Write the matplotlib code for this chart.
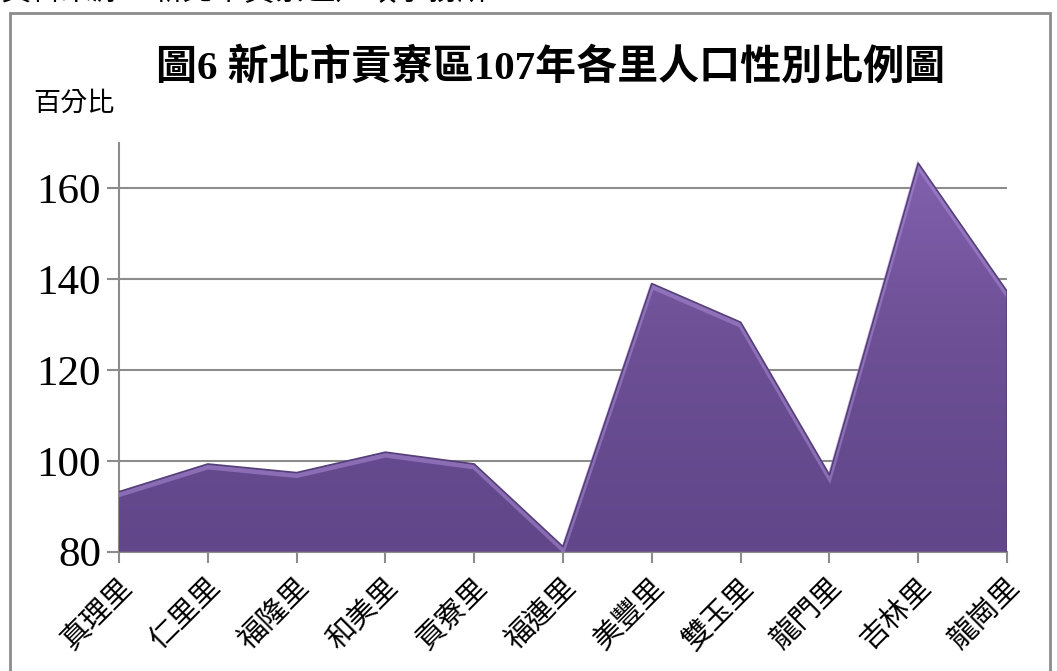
import numpy as np
import matplotlib
matplotlib.use('Agg')
import matplotlib.pyplot as plt
import matplotlib.transforms as mtransforms
from matplotlib.patches import Rectangle

plt.rcParams['font.family'] = ['Liberation Serif', 'Noto Sans CJK TC']

villages = ['真理里', '仁里里', '福隆里', '和美里', '貢寮里', '福連里',
            '美豐里', '雙玉里', '龍門里', '吉林里', '龍崗里']
sex_ratio = [93.2, 99.3, 97.4, 101.9, 99.3, 81.1, 139.0, 130.5, 96.9, 165.5, 137.3]
y_ticks = [80, 100, 120, 140, 160]

title = '圖6 新北市貢寮區107年各里人口性別比例圖'
y_title = '百分比'
source = '資料來源：新北市貢寮區戶政事務所'

fig = plt.figure(figsize=(10.57, 6.71), dpi=100)
ax = fig.add_axes([0.1126, 0.1778, 0.8401, 0.6095])

x = np.arange(len(villages))
y = np.array(sex_ratio)

# area with vertical gradient
poly = ax.fill_between(x, 80, y, facecolor='none', edgecolor='none', zorder=3)
grad = np.linspace(0, 1, 256).reshape(-1, 1)
cmap = matplotlib.colors.LinearSegmentedColormap.from_list(
    'purp', ['#61468a', '#6c4f94', '#8462b0'])
img = ax.imshow(grad, cmap=cmap, aspect='auto', origin='lower',
                extent=[x[0], x[-1], 80, 170], zorder=3)
img.set_clip_path(poly.get_paths()[0], transform=ax.transData)

# soft highlight under the top edge
shift = mtransforms.offset_copy(ax.transData, fig=fig, x=0, y=-3, units='dots')
ax.plot(x, y, color='#a98bd6', lw=3.5, alpha=0.55, transform=shift, zorder=4,
        solid_joinstyle='miter')
ax.plot(x, y, color='#553f78', lw=1.2, zorder=5)
ax.plot([x[-1], x[-1]], [80, y[-1]], color='#553f78', lw=1.2, zorder=5)

ax.set_xlim(x[0], x[-1])
ax.set_ylim(80, 170)
ax.set_yticks(y_ticks)
ax.set_xticks(x)
ax.set_xticklabels(villages, rotation=45, ha='right', rotation_mode='anchor',
                   fontsize=21)
for lab in ax.get_xticklabels():
    lab.set_transform(lab.get_transform() +
                      mtransforms.ScaledTranslation(-6 / 100, 0, fig.dpi_scale_trans))
ax.tick_params(axis='y', labelsize=31, length=9, width=1.5, color='#8c8c8c', pad=4)
ax.tick_params(axis='x', length=8, width=1.5, color='#8c8c8c', pad=8)
ax.grid(axis='y', color='#8c8c8c', lw=1.5, zorder=1)
ax.set_axisbelow(True)
for s in ['top', 'right']:
    ax.spines[s].set_visible(False)
for s in ['left', 'bottom']:
    ax.spines[s].set_color('#8c8c8c')
    ax.spines[s].set_linewidth(1.5)

fig.text(0.521, 0.898, title, fontsize=29.5, fontweight='bold',
         ha='center', va='center')
fig.text(0.031, 0.845, y_title, fontsize=19.5, ha='left', va='center')
# source line sits mostly above the visible area, as in the original crop
fig.text(0.0, 0.9995, source, fontsize=22, ha='left', va='baseline')

# outer chart frame
fig.patches.append(Rectangle((0.0095, -0.05), 0.984, 1.03, transform=fig.transFigure,
                             fill=False, edgecolor='#8c8c8c', lw=2))

fig.savefig('out.png', dpi=100)
